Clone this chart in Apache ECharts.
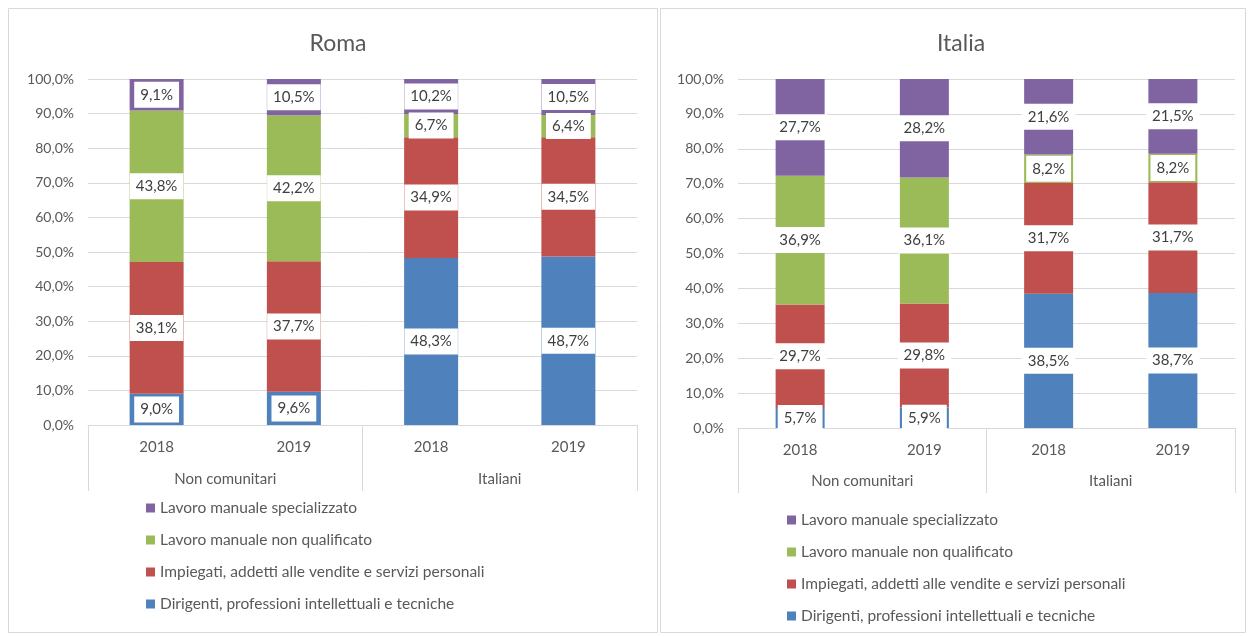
<!DOCTYPE html>
<html>
<head>
<meta charset="utf-8">
<script src="https://cdn.jsdelivr.net/npm/echarts@6/dist/echarts.min.js"></script>
<style>
  html, body { margin: 0; padding: 0; background: #fff; }
  #chart { width: 1250px; height: 637px; }
</style>
</head>
<body>
<div id="chart"></div>
<script>
// categories
const years = ['2018', '2019', '2018', '2019']
const groups = ['Non comunitari', 'Italiani']
const seriesNames = [
  'Dirigenti, professioni intellettuali e tecniche',
  'Impiegati, addetti alle vendite e servizi personali',
  'Lavoro manuale non qualificato',
  'Lavoro manuale specializzato'
]
const colors = ['#4f81bd', '#c0504d', '#9bbb59', '#8064a2']

// Roma (%), one array per occupation, order: NC 2018, NC 2019, IT 2018, IT 2019
const romaDirigenti = [9.0, 9.6, 48.3, 48.7]
const romaImpiegati = [38.1, 37.7, 34.9, 34.5]
const romaNonQualificato = [43.8, 42.2, 6.7, 6.4]
const romaSpecializzato = [9.1, 10.5, 10.2, 10.5]

// Italia (%)
const italiaDirigenti = [5.7, 5.9, 38.5, 38.7]
const italiaImpiegati = [29.7, 29.8, 31.7, 31.7]
const italiaNonQualificato = [36.9, 36.1, 8.2, 8.2]
const italiaSpecializzato = [27.7, 28.2, 21.6, 21.5]

const roma = [romaDirigenti, romaImpiegati, romaNonQualificato, romaSpecializzato]
const italia = [italiaDirigenti, italiaImpiegati, italiaNonQualificato, italiaSpecializzato]

const font = 'Lato, "Open Sans", sans-serif'
const textColor = '#595959'
const gridColor = '#d9d9d9'

const fmt = v => v.toFixed(1).replace('.', ',') + '%'

function panelAxes(gridIndex, tickLen, groupMargin) {
  return [
    {
      type: 'category',
      gridIndex,
      data: years,
      axisLine: { lineStyle: { color: gridColor } },
      axisTick: { show: false },
      axisLabel: { color: textColor, fontSize: 15, fontFamily: font, margin: 15 }
    },
    {
      type: 'category',
      gridIndex,
      position: 'bottom',
      data: groups,
      axisLine: { show: false },
      axisTick: {
        show: true,
        interval: 0,
        length: tickLen,
        lineStyle: { color: gridColor }
      },
      axisLabel: { color: textColor, fontSize: 15, fontFamily: font, margin: groupMargin }
    }
  ]
}

function panelY(gridIndex) {
  return {
    type: 'value',
    gridIndex,
    min: 0,
    max: 100,
    interval: 10,
    axisLine: { show: false },
    axisTick: { show: false },
    splitLine: { lineStyle: { color: gridColor } },
    axisLabel: {
      color: textColor,
      fontSize: 14,
      fontFamily: font,
      margin: 14,
      formatter: v => fmt(v)
    }
  }
}

function panelSeries(values, axisIndex, barWidth) {
  return values.map((data, i) => ({
    name: seriesNames[i],
    type: 'bar',
    stack: 'tot' + axisIndex,
    xAxisIndex: axisIndex * 2,
    yAxisIndex: axisIndex,
    barWidth,
    data,
    itemStyle: { color: colors[i] },
    label: {
      show: true,
      position: 'inside',
      backgroundColor: '#fff',
      padding: [6, 6, 5, 6],
      color: '#404040',
      fontSize: 15,
      fontFamily: font,
      formatter: p => fmt(p.value)
    }
  }))
}

const legendNames = seriesNames.slice().reverse()

function panelLegend(left, top) {
  return {
    orient: 'vertical',
    left,
    top,
    data: legendNames,
    icon: 'rect',
    itemWidth: 9,
    itemHeight: 9,
    itemGap: 16,
    selectedMode: false,
    textStyle: { color: textColor, fontSize: 15.5, fontFamily: font }
  }
}

const chart = echarts.init(document.getElementById('chart'), null, { renderer: 'canvas' })

chart.setOption({
  backgroundColor: '#fff',
  animation: false,
  title: [
    {
      text: 'Roma',
      left: 333,
      top: 27,
      textAlign: 'center',
      textStyle: { color: textColor, fontSize: 23, fontWeight: 'normal', fontFamily: font }
    },
    {
      text: 'Italia',
      left: 956,
      top: 27,
      textAlign: 'center',
      textStyle: { color: textColor, fontSize: 23, fontWeight: 'normal', fontFamily: font }
    }
  ],
  legend: [panelLegend(141, 495), panelLegend(782, 507)],
  grid: [
    { left: 88, right: 613, top: 79, bottom: 212 },
    { left: 738, right: 15, top: 79, bottom: 209 }
  ],
  xAxis: [...panelAxes(0, 66, 47), ...panelAxes(1, 65, 46)],
  yAxis: [panelY(0), panelY(1)],
  series: [...panelSeries(roma, 0, 54), ...panelSeries(italia, 1, 49)],
  graphic: [
    {
      type: 'rect',
      shape: { x: 8.5, y: 8.5, width: 649, height: 624 },
      style: { fill: 'none', stroke: gridColor, lineWidth: 1 },
      silent: true
    },
    {
      type: 'rect',
      shape: { x: 660.5, y: 8.5, width: 585, height: 624 },
      style: { fill: 'none', stroke: gridColor, lineWidth: 1 },
      silent: true
    }
  ]
})
</script>
</body>
</html>
